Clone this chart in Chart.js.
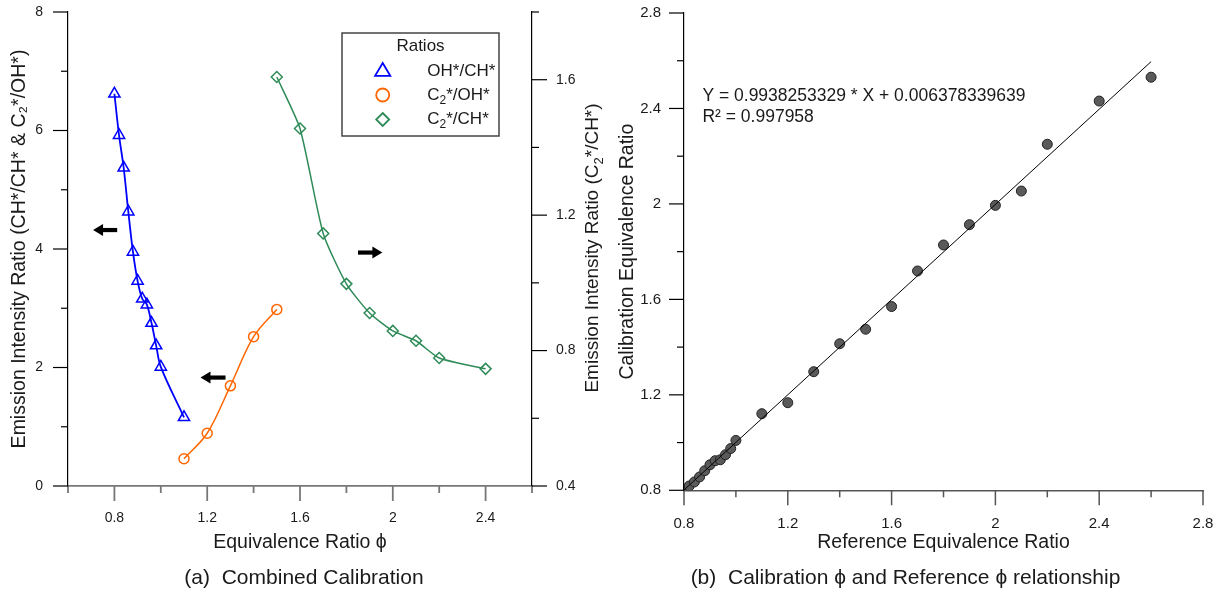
<!DOCTYPE html>
<html>
<head>
<meta charset="utf-8">
<script src="https://cdn.jsdelivr.net/npm/chart.js@4.4.1/dist/chart.umd.min.js"></script>
<style>
  html, body { margin: 0; padding: 0; background: #fff; }
  .wrap { position: relative; width: 1223px; height: 596px; }
  #left { position: absolute; left: 0; top: 0; }
  #right { position: absolute; left: 608px; top: 0; }
</style>
</head>
<body>
<div class="wrap">
  <canvas id="left" width="608" height="596"></canvas>
  <canvas id="right" width="615" height="596"></canvas>
</div>
<script>
// (a) combined calibration data
const ohChPhi = [0.80, 0.82, 0.84, 0.86, 0.88, 0.90, 0.92, 0.94, 0.96, 0.98, 1.00, 1.10];
const ohChRatio = [6.62, 5.92, 5.37, 4.63, 3.95, 3.46, 3.16, 3.06, 2.75, 2.37, 2.01, 1.16];
const c2OhPhi = [1.1, 1.2, 1.3, 1.4, 1.5];
const c2OhRatio = [0.46, 0.89, 1.69, 2.52, 2.98];
const c2ChPhi = [1.5, 1.6, 1.7, 1.8, 1.9, 2.0, 2.1, 2.2, 2.4];
const c2ChRatio = [1.608, 1.456, 1.146, 0.997, 0.911, 0.858, 0.829, 0.778, 0.746];
const seriesNames = ["OH*/CH*", "C₂*/OH*", "C₂*/CH*"];

// arrows pointing to the axis each curve belongs to (data coords, left axis)
const arrowFrom = [0.812, 1.279, 1.85];
const arrowTo = [0.708, 1.171, 1.955];
const arrowAt = [4.32, 1.83, 3.94];

// (b) calibration vs reference
const refPhi = [0.80, 0.82, 0.84, 0.86, 0.88, 0.90, 0.92, 0.94, 0.96, 0.98, 1.00,
  1.1, 1.2, 1.3, 1.4, 1.5, 1.6, 1.7, 1.8, 1.9, 2.0, 2.1, 2.2, 2.4, 2.6];
const calPhi = [0.800, 0.818, 0.835, 0.856, 0.882, 0.907, 0.924, 0.928, 0.949, 0.975, 1.009,
  1.121, 1.167, 1.297, 1.414, 1.475, 1.570, 1.719, 1.828, 1.913, 1.994, 2.054, 2.250, 2.431, 2.531];
const fitX = [0.8, 2.6];
const fitY = [0.8014, 2.5963];
const fitText = ["Y = 0.9938253329 * X + 0.006378339639", "R² = 0.997958"];

// tick labels
const leftXLabels = [0.8, 1.2, 1.6, 2, 2.4];
const leftYLabels = [0, 2, 4, 6, 8];
const leftY1Labels = [0.4, 0.8, 1.2, 1.6];
const rightLabels = [0.8, 1.2, 1.6, 2, 2.4, 2.8];

const FONT = "'Liberation Sans', Arial, Helvetica, sans-serif";
const TXT = "#1a1a1a";

const fmt = (v) => String(Math.round(v * 10) / 10);
const pick = (list) => (v) => list.some((l) => Math.abs(l - v) < 1e-6) ? fmt(v) : "";
const xy = (xs, ys) => xs.map((x, i) => ({ x: x, y: ys[i] }));

// draws text, turning "₂" into a real lowered small 2
function richText(ctx, text, x, y, size, align) {
  const parts = text.split("₂");
  const big = size + "px " + FONT;
  const small = Math.round(size * 0.68) + "px " + FONT;
  let w = 0;
  parts.forEach((p, i) => {
    ctx.font = big; w += ctx.measureText(p).width;
    if (i < parts.length - 1) { ctx.font = small; w += ctx.measureText("2").width; }
  });
  let cx = align === "center" ? x - w / 2 : x;
  ctx.textAlign = "left";
  ctx.textBaseline = "middle";
  parts.forEach((p, i) => {
    ctx.font = big; ctx.fillText(p, cx, y); cx += ctx.measureText(p).width;
    if (i < parts.length - 1) {
      ctx.font = small; ctx.fillText("2", cx, y + size * 0.32); cx += ctx.measureText("2").width;
    }
  });
}

// major / minor tick marks drawn outward from each axis
const tickMarks = {
  id: "tickMarks",
  afterDraw(chart) {
    const ctx = chart.ctx;
    Object.values(chart.scales).forEach((s) => {
      if (!s.options.display) return;
      ctx.save();
      ctx.strokeStyle = s.options.border.color;
      ctx.lineWidth = s.options.border.width;
      s.ticks.forEach((t) => {
        const len = t.label !== "" && t.label != null ? 15 : 7;
        const p = s.getPixelForValue(t.value);
        ctx.beginPath();
        if (s.options.position === "left") { ctx.moveTo(s.right, p); ctx.lineTo(s.right - len, p); }
        else if (s.options.position === "right") { ctx.moveTo(s.left, p); ctx.lineTo(s.left + len, p); }
        else { ctx.moveTo(p, s.top); ctx.lineTo(p, s.top + len); }
        ctx.stroke();
      });
      ctx.restore();
    });
  },
};

function marker(ctx, style, x, y, r) {
  ctx.beginPath();
  if (style === "triangle") {
    ctx.moveTo(x, y - r); ctx.lineTo(x + r * 0.95, y + r * 0.6); ctx.lineTo(x - r * 0.95, y + r * 0.6); ctx.closePath();
  } else if (style === "circle") {
    ctx.arc(x, y, r, 0, Math.PI * 2);
  } else {
    ctx.moveTo(x, y - r); ctx.lineTo(x + r, y); ctx.lineTo(x, y + r); ctx.lineTo(x - r, y); ctx.closePath();
  }
  ctx.stroke();
}

const leftExtras = {
  id: "leftExtras",
  afterDraw(chart) {
    const ctx = chart.ctx;
    const xs = chart.scales.x, ys = chart.scales.y;
    ctx.save();
    ctx.fillStyle = "#000";
    ctx.strokeStyle = "#000";
    // arrows
    arrowFrom.forEach((f, i) => {
      const x0 = xs.getPixelForValue(f), x1 = xs.getPixelForValue(arrowTo[i]);
      const y = ys.getPixelForValue(arrowAt[i]);
      const dir = Math.sign(x1 - x0);
      ctx.lineWidth = 4.2;
      ctx.beginPath(); ctx.moveTo(x0, y); ctx.lineTo(x1 - dir * 8, y); ctx.stroke();
      ctx.beginPath();
      ctx.moveTo(x1, y); ctx.lineTo(x1 - dir * 10, y - 6); ctx.lineTo(x1 - dir * 10, y + 6);
      ctx.closePath(); ctx.fill();
    });
    // legend
    const bx = 342, by = 33, bw = 157, bh = 103;
    ctx.fillStyle = "#fff";
    ctx.fillRect(bx, by, bw, bh);
    ctx.strokeStyle = "#444"; ctx.lineWidth = 1.5;
    ctx.strokeRect(bx, by, bw, bh);
    ctx.fillStyle = TXT;
    ctx.font = "17px " + FONT; ctx.textAlign = "center"; ctx.textBaseline = "middle";
    ctx.fillText("Ratios", 420.5, 46);
    const rows = [71, 95, 119.5];
    chart.data.datasets.forEach((d, i) => {
      ctx.strokeStyle = d.borderColor;
      ctx.lineWidth = 1.8;
      marker(ctx, d.pointStyle, 382.7, rows[i], d.legendRadius);
      ctx.fillStyle = TXT;
      richText(ctx, d.label, 427.3, rows[i], 17, "left");
    });
    // right axis title, reading bottom to top
    ctx.translate(593, 248);
    ctx.rotate(-Math.PI / 2);
    ctx.fillStyle = TXT;
    richText(ctx, "Emission Intensity Ratio (C₂*/CH*)", 0, 0, 19, "center");
    ctx.restore();
  },
};

const rightExtras = {
  id: "rightExtras",
  afterDraw(chart) {
    const ctx = chart.ctx;
    const xs = chart.scales.x, ys = chart.scales.y;
    ctx.save();
    ctx.fillStyle = TXT;
    ctx.font = "17.5px " + FONT;
    ctx.textAlign = "left"; ctx.textBaseline = "middle";
    ctx.fillText(fitText[0], xs.getPixelForValue(0.871), ys.getPixelForValue(2.452));
    ctx.fillText(fitText[1], xs.getPixelForValue(0.871), ys.getPixelForValue(2.362));
    ctx.restore();
  },
};

const fixSize = (w, h) => (scale) => {
  if (w != null) scale.width = w;
  if (h != null) scale.height = h;
};

// invisible grid: only used to push the tick labels away from the axis line
const hiddenGrid = (len) => ({
  display: true, drawOnChartArea: false, drawTicks: true, tickLength: len, color: "rgba(0,0,0,0)",
});

const axisTitle = (text, pad) => ({
  display: !!text, text: text, color: TXT, font: { family: FONT, size: 19.5 }, padding: pad,
});

const caption = (text) => ({
  display: true, position: "bottom", text: text, color: TXT,
  font: { family: FONT, size: 21, weight: "normal" }, padding: { top: 0, bottom: 5 },
});

new Chart(document.getElementById("left"), {
  type: "scatter",
  data: {
    datasets: [
      {
        label: seriesNames[0], data: xy(ohChPhi, ohChRatio), yAxisID: "y",
        showLine: true, tension: 0.35,
        borderColor: "#0000ff", backgroundColor: "rgba(0,0,0,0)", borderWidth: 1.8,
        pointStyle: "triangle", pointRadius: 6.5, pointBorderWidth: 1.5, legendRadius: 8,
      },
      {
        label: seriesNames[1], data: xy(c2OhPhi, c2OhRatio), yAxisID: "y",
        showLine: true, tension: 0.35,
        borderColor: "#ff6600", backgroundColor: "rgba(0,0,0,0)", borderWidth: 1.5,
        pointStyle: "circle", pointRadius: 5, pointBorderWidth: 1.5, legendRadius: 6.5,
      },
      {
        label: seriesNames[2], data: xy(c2ChPhi, c2ChRatio), yAxisID: "y1",
        showLine: true, tension: 0.2,
        borderColor: "#2e8b57", backgroundColor: "rgba(0,0,0,0)", borderWidth: 1.5,
        pointStyle: "rectRot", pointRadius: 5.5, pointBorderWidth: 1.5, legendRadius: 6.5,
      },
    ],
  },
  options: {
    responsive: false,
    devicePixelRatio: 1,
    animation: false,
    layout: { padding: { top: 12, left: 0, right: 0, bottom: 0 } },
    plugins: {
      legend: { display: false },
      tooltip: { enabled: false },
      title: caption("(a)  Combined Calibration"),
    },
    scales: {
      x: {
        type: "linear", position: "bottom", min: 0.6, max: 2.6,
        grid: hiddenGrid(24),
        border: { display: true, color: "#777", width: 1.8 },
        ticks: {
          stepSize: 0.2, autoSkip: false, maxRotation: 0, padding: 0, callback: pick(leftXLabels),
          color: TXT, font: { family: FONT, size: 14 },
        },
        title: axisTitle("Equivalence Ratio ϕ", { top: 0, bottom: 11 }),
        afterFit: fixSize(null, 79.8),
      },
      y: {
        type: "linear", position: "left", min: 0, max: 8,
        grid: hiddenGrid(25),
        border: { display: true, color: "#000", width: 1.2 },
        ticks: {
          stepSize: 1, autoSkip: false, padding: 0, callback: pick(leftYLabels),
          color: TXT, font: { family: FONT, size: 14 },
        },
        title: axisTitle("Emission Intensity Ratio (CH*/CH* & C₂*/OH*)", { top: 8, bottom: 0 }),
        afterFit: fixSize(68, null),
      },
      y1: {
        type: "linear", position: "right", min: 0.4, max: 1.8,
        grid: hiddenGrid(24),
        border: { display: true, color: "#000", width: 1.2 },
        ticks: {
          stepSize: 0.2, autoSkip: false, padding: 0, callback: pick(leftY1Labels),
          color: TXT, font: { family: FONT, size: 14 },
        },
        afterFit: fixSize(76, null),
      },
    },
  },
  plugins: [tickMarks, leftExtras],
});

new Chart(document.getElementById("right"), {
  type: "scatter",
  data: {
    datasets: [
      {
        type: "line", label: "fit", data: xy(fitX, fitY),
        borderColor: "#000", borderWidth: 1, pointRadius: 0, fill: false,
      },
      {
        label: "Calibration", data: xy(refPhi, calPhi),
        backgroundColor: "#5a5a5a", borderColor: "#222", pointRadius: 5, pointBorderWidth: 1,
      },
    ],
  },
  options: {
    responsive: false,
    devicePixelRatio: 1,
    animation: false,
    layout: { padding: { top: 13, left: 0, right: 20, bottom: 0 } },
    plugins: {
      legend: { display: false },
      tooltip: { enabled: false },
      title: caption("(b)  Calibration ϕ and Reference ϕ relationship"),
    },
    scales: {
      x: {
        type: "linear", position: "bottom", min: 0.8, max: 2.8,
        grid: hiddenGrid(25),
        border: { display: true, color: "#555", width: 1.5 },
        ticks: {
          stepSize: 0.2, autoSkip: false, maxRotation: 0, padding: 0, callback: pick(rightLabels),
          color: TXT, font: { family: FONT, size: 15 },
        },
        title: axisTitle("Reference Equivalence Ratio", { top: 0, bottom: 11 }),
        afterFit: fixSize(null, 75.5),
      },
      y: {
        type: "linear", position: "left", min: 0.8, max: 2.8,
        grid: hiddenGrid(23),
        border: { display: true, color: "#000", width: 1.2 },
        ticks: {
          stepSize: 0.2, autoSkip: false, padding: 0, callback: pick(rightLabels),
          color: TXT, font: { family: FONT, size: 15 },
        },
        title: axisTitle("Calibration Equivalence Ratio", { top: 8, bottom: 0 }),
        afterFit: fixSize(76, null),
      },
    },
  },
  plugins: [tickMarks, rightExtras],
});
</script>
</body>
</html>
